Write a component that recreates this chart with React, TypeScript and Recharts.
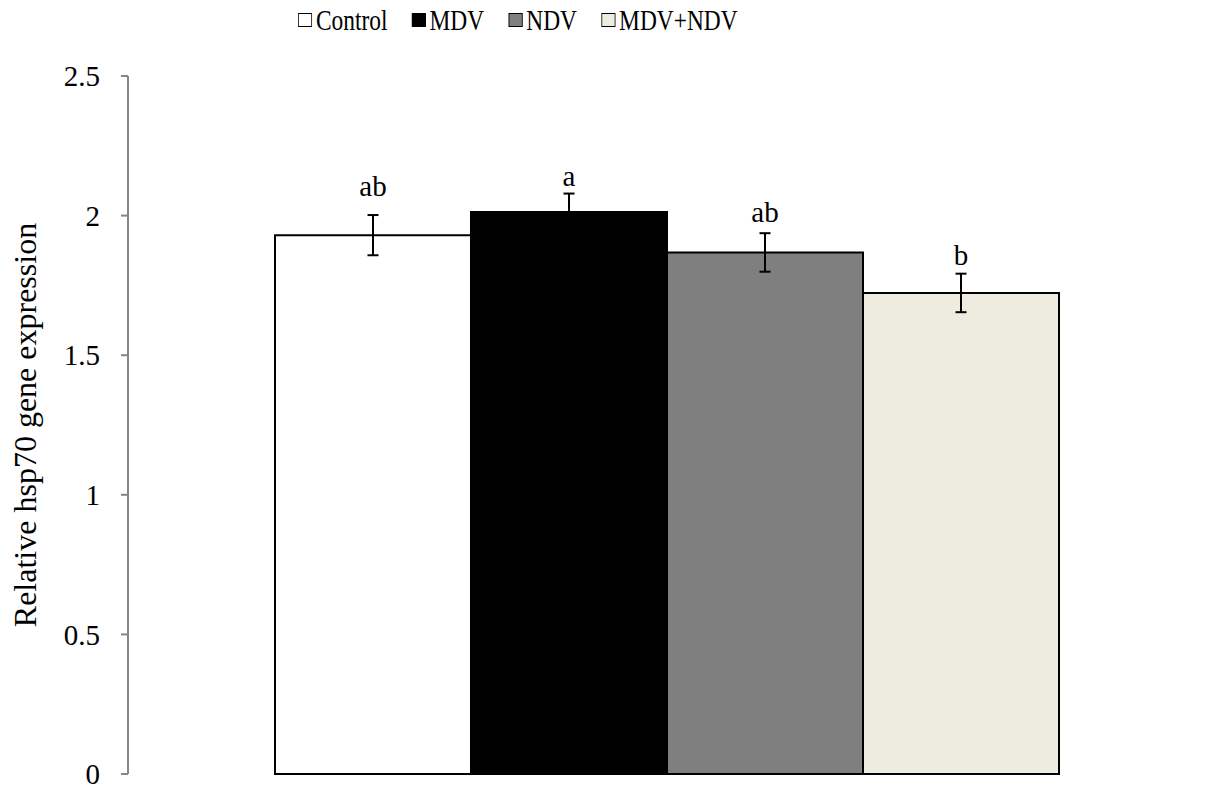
import React from 'react';
import { BarChart, Bar, XAxis, YAxis, ErrorBar, LabelList, Legend } from 'recharts';

const categories = ['Control', 'MDV', 'NDV', 'MDV+NDV'];
const means = [1.93, 2.013, 1.868, 1.723];
const errors = [0.072, 0.066, 0.069, 0.069];
const letters = ['ab', 'a', 'ab', 'b'];
const yTicks = [0, 0.5, 1, 1.5, 2, 2.5];
const yLabel = 'Relative hsp70 gene expression';

const fills = ['#FFFFFF', '#000000', '#7F7F7F', '#EEECE1'];
const labelGaps = [19, 8, 11.5, 8.5];
const FONT = '"Liberation Serif", "Times New Roman", serif';

const row: Record<string, any> = { name: '' };
categories.forEach((c, i) => {
  row[`s${i}`] = means[i];
  row[`s${i}err`] = errors[i];
  row[`s${i}let`] = letters[i];
});
const data = [row];

const makeLetter = (si: number) => (props: any) => {
  const { x, y, width, height, value } = props;
  const pxPerUnit = height / means[si];
  const errTop = y - errors[si] * pxPerUnit;
  return (
    <text
      x={x + width / 2}
      y={errTop - labelGaps[si]}
      textAnchor="middle"
      fontFamily={FONT}
      fontSize={29}
      fill="#000"
    >
      {value}
    </text>
  );
};

const LegendContent = () => (
  <div style={{ position: 'relative', height: 40, width: 1209 }}>
    <div
      style={{
        position: 'absolute',
        left: 298,
        top: 3,
        display: 'flex',
        alignItems: 'center',
        transform: 'scaleX(0.78)',
        transformOrigin: '0 0',
        whiteSpace: 'nowrap',
        fontFamily: FONT,
        fontSize: 30,
        lineHeight: '34px',
        color: '#000',
      }}
    >
      {categories.map((c, i) => (
        <div key={c} style={{ display: 'flex', alignItems: 'center', marginRight: 31 }}>
          <span
            style={{
              display: 'inline-block',
              width: 16,
              height: 12,
              background: fills[i],
              border: '1px solid #000',
              marginRight: 5,
            }}
          />
          <span>{c}</span>
        </div>
      ))}
    </div>
  </div>
);

const YLabel = (props: any) => {
  const vb = props.viewBox || {};
  const cy = vb.y + vb.height / 2;
  const bx = 36;
  return (
    <text
      x={bx}
      y={cy}
      transform={`rotate(-90 ${bx} ${cy})`}
      textAnchor="middle"
      fontFamily={FONT}
      fontSize={32}
      fill="#000"
    >
      {yLabel}
    </text>
  );
};

export default function App() {
  return (
    <div style={{ position: 'absolute', left: 0, top: 0, width: 1209, height: 788, background: '#fff' }}>
      <BarChart
        width={1209}
        height={788}
        data={data}
        margin={{ top: 76, right: 5, bottom: 0, left: 0 }}
        barCategoryGap={147}
        barGap={0}
      >
        <XAxis dataKey="name" xAxisId="cat" hide />
        <XAxis
          xAxisId="edge"
          type="number"
          domain={[0, 1]}
          ticks={[0, 1]}
          allowDataOverflow
          height={14}
          tickSize={7}
          stroke="#868686"
          axisLine={{ stroke: '#868686', strokeWidth: 2 }}
          tickLine={{ stroke: '#868686', strokeWidth: 2 }}
          tick={() => <g />}
        />
        <YAxis
          width={128}
          domain={[0, 2.5]}
          ticks={yTicks}
          interval={0}
          tickSize={7}
          tickMargin={21}
          axisLine={{ stroke: '#868686', strokeWidth: 2 }}
          tickLine={{ stroke: '#868686', strokeWidth: 2 }}
          tick={{ fill: '#000', fontSize: 29, fontFamily: FONT }}
          tickFormatter={(v: number) => String(v)}
          label={<YLabel />}
        />
        <Legend
          verticalAlign="middle"
          align="center"
          layout="horizontal"
          wrapperStyle={{ top: 0, left: 0, width: 1209, height: 40 }}
          content={<LegendContent />}
        />
        {categories.map((c, i) => (
          <Bar
            key={c}
            xAxisId="cat"
            dataKey={`s${i}`}
            name={c}
            fill={fills[i]}
            stroke="#000"
            strokeWidth={2}
            isAnimationActive={false}
          >
            <ErrorBar dataKey={`s${i}err`} width={5.5} stroke="#000" strokeWidth={2} direction="y" />
            <LabelList dataKey={`s${i}let`} content={makeLetter(i)} />
          </Bar>
        ))}
      </BarChart>
    </div>
  );
}
